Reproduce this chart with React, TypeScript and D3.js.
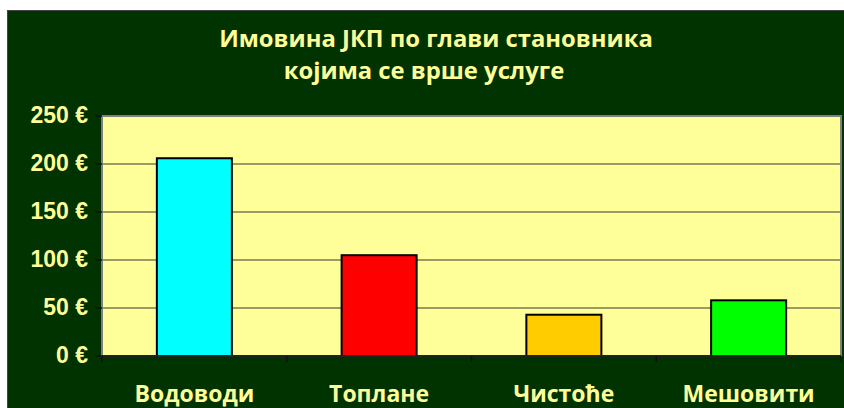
import React from "react";
import * as d3 from "d3";

// chart data
const categories = ["Водоводи", "Топлане", "Чистоће", "Мешовити"];
const values = [206, 105, 43, 58];
const barColors = ["#00FFFF", "#FF0000", "#FFCC00", "#00FF00"];
const yTicks = [0, 50, 100, 150, 200, 250];
const titleLines = ["Имовина ЈКП по глави становника", "којима се врше услуге"];

const W = 844;
const H = 408;
const plot = { left: 102, right: 841, top: 116, bottom: 356 };
const textColor = "#FFFF99";

const App = () => {
  const x = d3
    .scaleBand<string>()
    .domain(categories)
    .range([plot.left, plot.right])
    .padding(0);
  const y = d3.scaleLinear().domain([0, 250]).range([plot.bottom, plot.top]);
  const barW = x.bandwidth() * 0.406;
  const boundaries = [...categories.map((c) => x(c) as number), plot.right];

  return (
    <svg
      width={W}
      height={H}
      style={{ position: "absolute", left: 0, top: 0, background: "#fff" }}
    >
      {/* chart background */}
      <rect x={7.5} y={10.5} width={W} height={H} fill="#003300" stroke="#444" strokeWidth={1} />

      {/* title */}
      <g fontFamily="'Open Sans', sans-serif" fontWeight="bold" fontSize={23.8} fill={textColor} textAnchor="middle">
        <text x={436} y={47}>{titleLines[0]}</text>
        <text x={424} y={79}>{titleLines[1]}</text>
      </g>

      {/* plot area */}
      <rect
        x={plot.left}
        y={plot.top}
        width={plot.right - plot.left}
        height={plot.bottom - plot.top}
        fill="#FFFF99"
        stroke="#808080"
        strokeWidth={2}
      />

      {/* gridlines */}
      {yTicks
        .filter((t) => t > 0 && t < 250)
        .map((t) => (
          <line key={t} x1={plot.left} x2={plot.right} y1={y(t)} y2={y(t)} stroke="#7A7A55" strokeWidth={1.6} />
        ))}

      {/* bars */}
      {categories.map((c, i) => {
        const cx = (x(c) as number) + x.bandwidth() / 2;
        return (
          <rect
            key={c}
            x={cx - barW / 2}
            y={y(values[i])}
            width={barW}
            height={y(0) - y(values[i])}
            fill={barColors[i]}
            stroke="#000"
            strokeWidth={2}
          />
        );
      })}

      {/* axes */}
      <line x1={plot.left} x2={plot.right} y1={y(0)} y2={y(0)} stroke="#222" strokeWidth={2} />
      {yTicks.map((t) => (
        <g key={t}>
          <line x1={plot.left - 7} x2={plot.left} y1={y(t)} y2={y(t)} stroke="#111" strokeWidth={1.5} />
          <text
            x={88}
            y={y(t) + 7}
            textAnchor="end"
            fontFamily="'Liberation Sans', Arial, sans-serif"
            fontWeight="bold"
            fontSize={23}
            fill={textColor}
          >
            {t} €
          </text>
        </g>
      ))}
      {boundaries.map((b, i) => (
        <line key={i} x1={b} x2={b} y1={y(0)} y2={y(0) + 6} stroke="#111" strokeWidth={1.5} />
      ))}
      {categories.map((c) => (
        <text
          key={c}
          x={(x(c) as number) + x.bandwidth() / 2}
          y={402}
          textAnchor="middle"
          fontFamily="'Open Sans', sans-serif"
          fontWeight="bold"
          fontSize={23}
          fill={textColor}
        >
          {c}
        </text>
      ))}
    </svg>
  );
};

export default App;
